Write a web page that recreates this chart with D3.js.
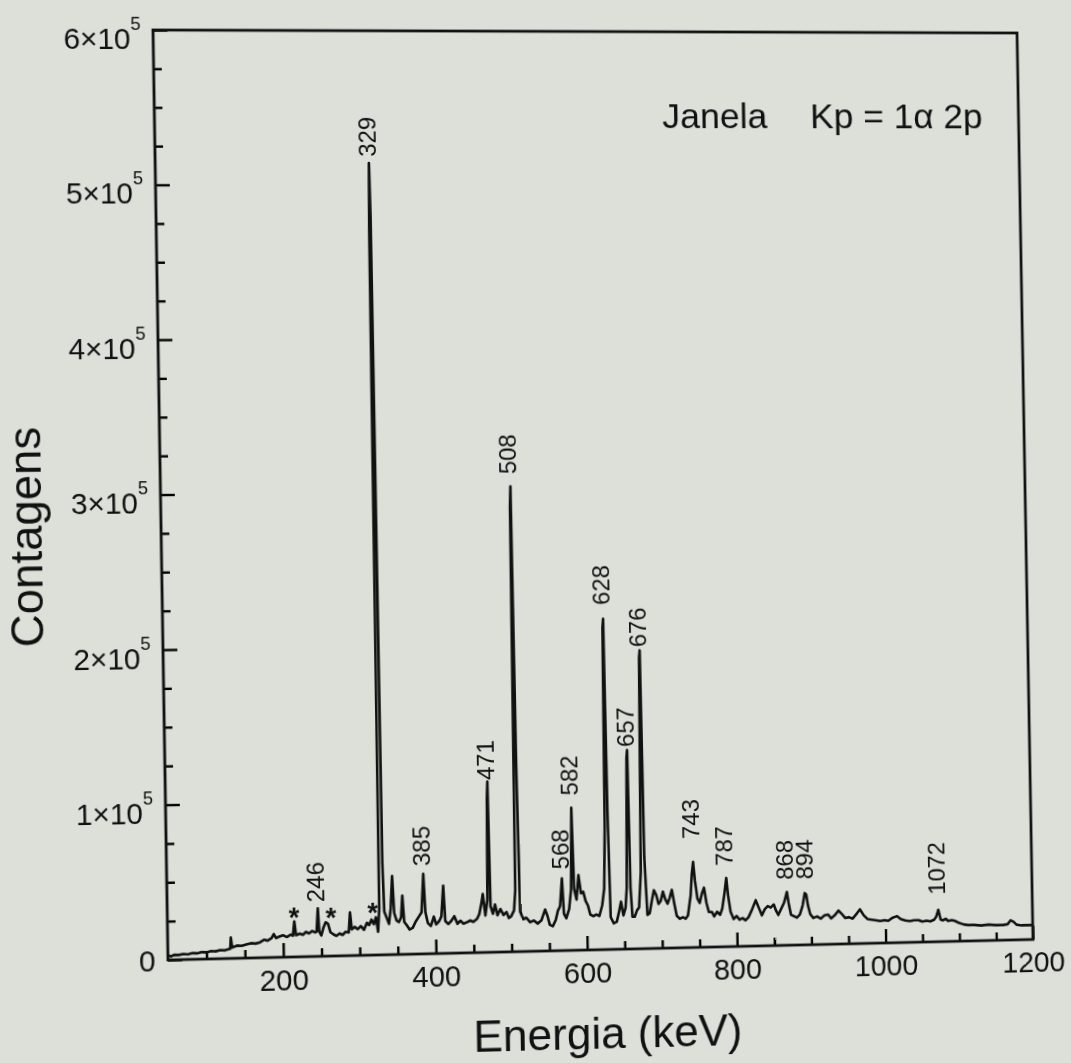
<!DOCTYPE html>
<html>
<head>
<meta charset="utf-8">
<script src="https://cdn.jsdelivr.net/npm/d3@7"></script>
<style>
html, body { margin:0; padding:0; background:#dce0d9; overflow:hidden; }
#chart { position:absolute; left:0; top:0; transform-origin:0 0; }
text { font-family:"Liberation Sans", Arial, Helvetica, sans-serif; fill:#111; }
</style>
</head>
<body>
<svg id="chart"></svg>
<script>
// spectrum: energy (keV) and counts
var energy = [50,54,58,64,70,76,82,88,94,100,106,112,118,124,129,131,132,133.5,136,140,146,152,158,164,170,175,180,185,188,191,196,200,205,210,213,215,217,222,226,230,234,238,242,244,246,247.5,250,253,256,259,262,266,270,274,278,282,286,288,290,294,298,302,306,310,313,316,319,322,324.5,326.5,328,329,330,331.5,333,336,339,341.5,344,346,349,352,355,357,359,362,366,370,374,378,382,385,387,390,394,398,401,405,408,411,413,417,421,425,429,433,437,442,446,450,455,458,461,463,466,469,470.5,471.5,473,476,479,482,486,490,494,497,500,504,506,507.5,508.5,510,512,516,520,525,530,535,540,545,548,551,555,559,562,565,568,570,573,577,580,582,584,587,590,593,596,599,602,605,609,613,617,621,624,626,627.5,628.5,630,632,636,640,643,646,649,652,654,656.5,657.5,659,661,664,667,670,673,675.5,676.5,678,681,684,687,690,693,696,699,702,705,708,711,714,717,720,724,728,732,735,739,741,743,745,748,751,754,757,760,763,767,770,774,778,781,784,787,789,792,796,800,804,808,812,816,820,826,830,834,838,842,846,850,853,856,860,864,868,870,873,877,881,885,889,892,894,896,899,903,908,913,918,923,927,932,937,941,946,951,956,962,966,971,976,982,988,993,999,1004,1010,1016,1021,1027,1033,1039,1045,1050,1056,1061,1066,1069,1072,1075,1078,1082,1085,1090,1094,1100,1106,1112,1120,1130,1140,1150,1160,1166,1170,1174,1178,1185,1192,1200];
var counts = [3000,2200,3200,3000,3600,3300,4000,3800,4500,4300,5000,4800,5500,5300,6000,6200,13500,7000,7500,8200,8000,8800,9500,9200,10000,11500,11000,12500,15000,12500,13500,14200,13000,14500,13800,23000,14000,15000,14200,16000,15000,16500,15500,16000,31000,16000,13500,18500,22000,21000,15500,14000,13000,14500,13500,15500,15000,28000,17000,18500,17000,19000,16500,21000,19500,23000,20000,24500,15000,30000,470000,514000,480000,60000,28000,24000,20000,30000,51000,27000,22000,21000,24000,38000,21000,19000,16000,17000,21000,24000,27000,52000,27000,20000,18000,24000,19000,21000,24000,44000,21000,19000,21000,24000,19000,21000,19000,20000,21000,20000,22000,25000,32000,38000,24000,34000,100000,111000,30000,25000,31000,24000,28000,24000,26000,22000,23000,27000,40000,290000,303000,120000,26000,21000,22000,19000,20000,18000,20000,27000,23000,17000,16000,20000,26000,29000,47000,24000,21000,27000,40000,93000,40000,33000,49000,37000,38000,32000,29000,23000,22000,23000,22000,29000,40000,80000,210000,216000,90000,21000,17000,18000,24000,31000,22000,27000,40000,125000,130000,40000,21000,21000,25000,27000,50000,190000,195000,60000,22000,23000,31000,38000,35000,29000,31000,37000,32000,29000,33000,38000,29000,21000,19000,20000,19000,21000,34000,48000,56000,44000,32000,29000,35000,39000,29000,23000,23000,20000,23000,21000,25000,34000,45000,34000,23000,18000,20000,17500,18500,17000,19000,23000,30000,25000,20000,24000,26000,25000,27000,23000,20000,24000,28000,35000,28000,20000,19000,18000,20000,26000,34000,33000,26000,20000,17500,18500,17000,19000,19500,17000,19000,22000,20000,17000,17500,16500,20000,22500,18500,16000,15500,15000,14500,15000,14500,16500,17500,15500,14500,14000,14500,14500,13500,14000,13500,14500,16500,21000,14500,14000,15000,13500,14000,13500,12000,11000,10500,10500,10000,10500,10000,10000,10500,13000,12000,10000,9500,9500,9500];

// peak labels and the count level where each label starts
var peakLabels = ["246","329","385","471","508","568","582","628","657","676","743","787","868","894","1072"];
var labelAt = [35000,518000,57000,112000,311000,53000,101000,225000,132000,197000,71000,53000,43000,43000,31000];
var starAt = [215, 263, 318];
var xTicks = [200, 400, 600, 800, 1000, 1200];
var yTicks = [0, 1e5, 2e5, 3e5, 4e5, 5e5, 6e5];

var data = energy.map(function(e, i){ return [e, counts[i]]; });

var W = 1071, H = 1063;
var L = 160, T = 31, R = 1025, B = 952;
var font = '"Liberation Sans", Arial, Helvetica, sans-serif';

var svg = d3.select("#chart").attr("width", W).attr("height", H);

var x = d3.scaleLinear().domain([50, 1200]).range([L, R]);
var y = d3.scaleLinear().domain([0, 6e5]).range([B, T]);

// minor ticks
svg.append("g")
    .attr("transform", "translate(0," + B + ")")
    .call(d3.axisBottom(x).tickValues(d3.range(100, 1200, 50).filter(function(v){ return v % 200; }))
        .tickSize(-8).tickFormat(""))
    .call(function(g){ g.select(".domain").remove(); g.selectAll("line").attr("stroke-width", 2.4); });

svg.append("g")
    .attr("transform", "translate(" + L + ",0)")
    .call(d3.axisLeft(y).tickValues(d3.range(25000, 6e5, 25000).filter(function(v){ return v % 1e5; }))
        .tickSize(-8).tickFormat(""))
    .call(function(g){ g.select(".domain").remove(); g.selectAll("line").attr("stroke-width", 2.4); });

// x axis
svg.append("g")
    .attr("transform", "translate(0," + B + ")")
    .call(d3.axisBottom(x).tickValues(xTicks).tickFormat(d3.format("d"))
        .tickSizeInner(-14).tickSizeOuter(0).tickPadding(12))
    .attr("font-family", font).attr("font-size", 29)
    .call(function(g){
        g.select(".domain").remove();
        g.selectAll("line").attr("stroke-width", 2.4);
        g.selectAll("text").attr("fill", "#111");
    });

// y axis, labels as n×10^5
svg.append("g")
    .attr("transform", "translate(" + L + ",0)")
    .call(d3.axisLeft(y).tickValues(yTicks).tickSizeInner(-14).tickSizeOuter(0).tickPadding(12).tickFormat(""))
    .attr("font-family", font).attr("font-size", 29)
    .call(function(g){
        g.select(".domain").remove();
        g.selectAll("line").attr("stroke-width", 2.4);
        g.selectAll(".tick text").each(function(d){
            var t = d3.select(this).attr("fill", "#111");
            if (d === 0) { t.attr("dy", 10).text("0"); return; }
            t.attr("dy", 18).text(null);
            t.append("tspan").text((d / 1e5) + "×10");
            t.append("tspan").attr("dy", -19).attr("font-size", 18).text("5");
        });
    });

// frame
svg.append("rect")
    .attr("x", L).attr("y", T).attr("width", R - L).attr("height", B - T)
    .attr("fill", "none").attr("stroke", "#111").attr("stroke-width", 2.8);

// spectrum
var line = d3.line()
    .x(function(d){ return x(d[0]); })
    .y(function(d){ return y(d[1]); });

svg.append("path")
    .datum(data)
    .attr("d", line)
    .attr("fill", "none")
    .attr("stroke", "#111")
    .attr("stroke-width", 2.6)
    .attr("stroke-linejoin", "round");

function topNear(e, win){
    var m = 0;
    data.forEach(function(d){ if (Math.abs(d[0] - e) <= win && d[1] > m) m = d[1]; });
    return m;
}

// peak labels
svg.selectAll(".plabel")
    .data(peakLabels)
    .join("text")
    .attr("class", "plabel")
    .attr("font-size", 24)
    .attr("transform", function(s, i){
        return "translate(" + (x(+s) + 7) + "," + y(labelAt[i]) + ") rotate(-90)";
    })
    .text(function(s){ return s; });

svg.selectAll(".star")
    .data(starAt)
    .join("text")
    .attr("class", "star")
    .attr("font-size", 27)
    .attr("font-weight", "bold")
    .attr("text-anchor", "middle")
    .attr("x", function(e){ return x(e); })
    .attr("y", function(e){ return y(topNear(e, 8)) + 5; })
    .text("*");

// titles
svg.append("text")
    .attr("x", 663).attr("y", 128)
    .attr("font-size", 36)
    .text("Janela");
svg.append("text")
    .attr("x", R - 37).attr("y", 128)
    .attr("text-anchor", "end")
    .attr("font-size", 36)
    .text("Kp = 1α 2p");

svg.append("text")
    .attr("x", (L + R) / 2 + 1).attr("y", B + 99)
    .attr("text-anchor", "middle")
    .attr("font-size", 44)
    .text("Energia (keV)");

svg.append("text")
    .attr("text-anchor", "middle")
    .attr("transform", "translate(" + (L - 116) + ",532) rotate(-90)")
    .attr("font-size", 45)
    .text("Contagens");

// the photo is taken at a slight angle: map the frame rectangle onto
// the corners seen in the picture with a projective transform
var quad = [[153, 30], [1017, 33], [1033, 939.5], [168, 960]];
function squareToQuad(p){
    var x0 = p[0][0], y0 = p[0][1], x1 = p[1][0], y1 = p[1][1],
        x2 = p[2][0], y2 = p[2][1], x3 = p[3][0], y3 = p[3][1];
    var dx1 = x1 - x2, dx2 = x3 - x2, dx3 = x0 - x1 + x2 - x3;
    var dy1 = y1 - y2, dy2 = y3 - y2, dy3 = y0 - y1 + y2 - y3;
    var den = dx1 * dy2 - dx2 * dy1;
    var g = (dx3 * dy2 - dx2 * dy3) / den, h = (dx1 * dy3 - dx3 * dy1) / den;
    return [[x1 - x0 + g * x1, x3 - x0 + h * x3, x0],
            [y1 - y0 + g * y1, y3 - y0 + h * y3, y0],
            [g, h, 1]];
}
function mul(a, b){
    var r = [[0,0,0],[0,0,0],[0,0,0]];
    for (var i = 0; i < 3; i++) for (var j = 0; j < 3; j++)
        for (var k = 0; k < 3; k++) r[i][j] += a[i][k] * b[k][j];
    return r;
}
var norm = [[1 / (R - L), 0, -L / (R - L)], [0, 1 / (B - T), -T / (B - T)], [0, 0, 1]];
var m = mul(squareToQuad(quad), norm);
document.getElementById("chart").style.transform =
    "matrix3d(" + [m[0][0], m[1][0], 0, m[2][0],
                   m[0][1], m[1][1], 0, m[2][1],
                   0, 0, 1, 0,
                   m[0][2], m[1][2], 0, m[2][2]].join(",") + ")";
</script>
</body>
</html>
